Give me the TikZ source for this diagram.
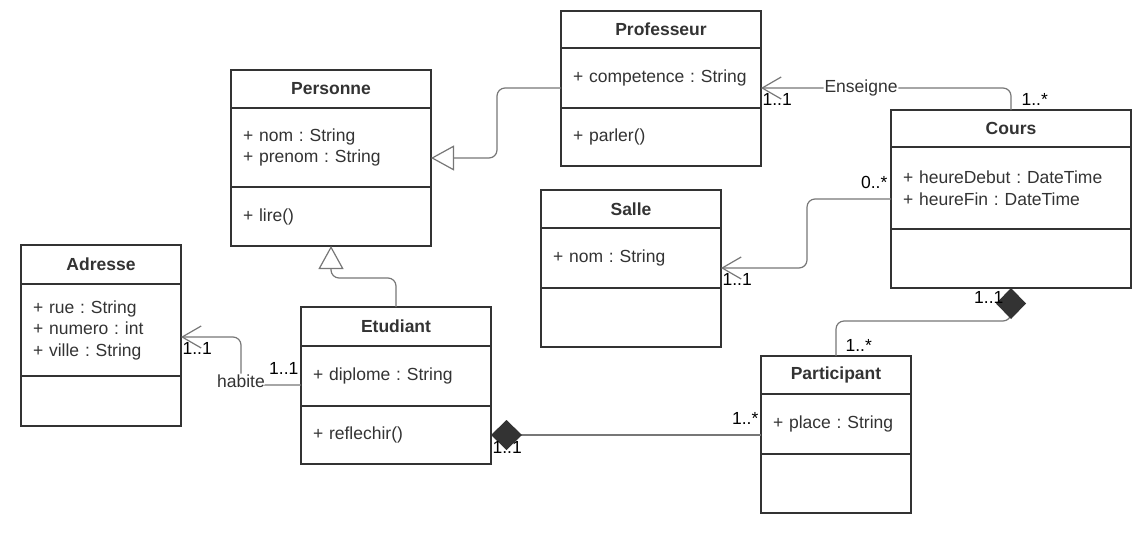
\documentclass[tikz,border=0pt]{standalone}
\usepackage{fontspec}
\setmainfont{Liberation Sans}
\usetikzlibrary{positioning,arrows.meta}
\definecolor{boxc}{HTML}{333333}
\definecolor{linkc}{HTML}{777777}
\frenchspacing

\begin{document}
\begin{tikzpicture}[x=1pt,y=-1pt,
    font=\fontsize{17.5}{21.5}\selectfont,
    head/.style={draw=boxc,line width=1.5pt,outer sep=0pt,inner sep=0pt,
      text=boxc,font=\fontsize{17.5}{21.5}\selectfont\bfseries,anchor=north west},
    comp/.style={draw=boxc,line width=1.5pt,outer sep=0pt,inner xsep=12pt,
      inner ysep=0pt,text=boxc,align=left},
    link/.style={draw=linkc,line width=1.2pt,rounded corners=8pt},
    mult/.style={inner sep=1pt,text=black},
    lab/.style={fill=white,inner sep=1pt,text=boxc}]

  \useasboundingbox (0,0) rectangle (1142,533);

  \begin{scope}
    \node[head,minimum width=200pt,minimum height=38pt] (pers) at (231,70) {Personne};
    \node[comp,text width=176pt,minimum height=79pt,below=0pt of pers] (pers-a) {+ nom : String\\+ prenom : String};
    \node[comp,text width=176pt,minimum height=59pt,below=0pt of pers-a] (pers-m) {+ lire()};

    \node[head,minimum width=200pt,minimum height=37pt] (prof) at (561,11) {Professeur};
    \node[comp,text width=176pt,minimum height=60pt,below=0pt of prof] (prof-a) {+ competence : String};
    \node[comp,text width=176pt,minimum height=58pt,below=0pt of prof-a] (prof-m) {+ parler()};

    \node[head,minimum width=240pt,minimum height=37pt] (cours) at (891,110) {Cours};
    \node[comp,text width=216pt,minimum height=82pt,below=0pt of cours] (cours-a) {+ heureDebut : DateTime\\+ heureFin : DateTime};
    \node[comp,text width=216pt,minimum height=59pt,below=0pt of cours-a] (cours-m) {};

    \node[head,minimum width=180pt,minimum height=38pt] (salle) at (541,190) {Salle};
    \node[comp,text width=156pt,minimum height=60pt,below=0pt of salle] (salle-a) {+ nom : String};
    \node[comp,text width=156pt,minimum height=59pt,below=0pt of salle-a] (salle-m) {};

    \node[head,minimum width=160pt,minimum height=39pt] (adr) at (21,245) {Adresse};
    \node[comp,text width=136pt,minimum height=92pt,below=0pt of adr] (adr-a) {+ rue : String\\+ numero : int\\+ ville : String};
    \node[comp,text width=136pt,minimum height=50pt,below=0pt of adr-a] (adr-m) {};

    \node[head,minimum width=190pt,minimum height=39pt] (etu) at (301,307) {Etudiant};
    \node[comp,text width=166pt,minimum height=60pt,below=0pt of etu] (etu-a) {+ diplome : String};
    \node[comp,text width=166pt,minimum height=58pt,below=0pt of etu-a] (etu-m) {+ reflechir()};

    \node[head,minimum width=150pt,minimum height=38pt] (part) at (761,356) {Participant};
    \node[comp,text width=126pt,minimum height=60pt,below=0pt of part] (part-a) {+ place : String};
    \node[comp,text width=126pt,minimum height=59pt,below=0pt of part-a] (part-m) {};
  \end{scope}

  \begin{scope}
    \draw[link,-{Triangle[open,length=23pt,width=25pt,fill=white]}]
      ([yshift=-10pt]prof-a.west) -- ++(-64,0) |- ([yshift=-10.5pt]pers-a.east);
    \draw[link,-{Triangle[open,length=23pt,width=25pt,fill=white]}]
      (etu.north) -- ++(0,-29) -| (pers-m.south);

    \draw[link,-{Straight Barb[length=19pt,width=22pt]}]
      (cours.north) node[mult,anchor=south west,xshift=9pt,yshift=3pt] (m-cours-prof) {1..*}
      |- node[lab,pos=0.8] (enseigne) {Enseigne}
      ([yshift=-10pt]prof-a.east) node[mult,anchor=north west,yshift=-4pt] (m-prof-cours) {1..1};
    \draw[link,-{Straight Barb[length=19pt,width=22pt]}]
      ([yshift=-11pt]cours-a.west) node[mult,anchor=south east,xshift=-2pt,yshift=9pt] (m-cours-salle) {0..*}
      -- ++(-84,0) |- ([yshift=-10pt]salle-a.east) node[mult,anchor=north west,yshift=-4pt] (m-salle-cours) {1..1};
    \draw[link,-{Straight Barb[length=19pt,width=22pt]}]
      ([yshift=-9pt]etu-a.west) node[mult,anchor=south east,xshift=-1pt,yshift=9pt] (m-etu-adr) {1..1}
      -- ++(-60,0) node[lab,pos=1,yshift=4pt] (habite) {habite}
      |- ([yshift=-7pt]adr-a.east) node[mult,anchor=north west,yshift=-4pt] (m-adr-etu) {1..1};

    \draw[link,{Diamond[length=31pt,width=30pt,color=boxc]}-]
      (cours-m.south) node[mult,anchor=north east,xshift=-6pt,yshift=-2pt] (m-cours-part) {1..1}
      -- ++(0,33) -| (part.north) node[mult,anchor=south west,xshift=8pt,yshift=3pt] (m-part-cours) {1..*};
    \draw[link,-{Diamond[length=31pt,width=30pt,color=boxc]}]
      ([yshift=-11pt]part-a.west) node[mult,anchor=south east,xshift=-1pt,yshift=9pt] (m-part-etu) {1..*}
      -- (etu-m.east) node[mult,anchor=north west,yshift=-5pt] (m-etu-part) {1..1};
  \end{scope}

\end{tikzpicture}
\end{document}
